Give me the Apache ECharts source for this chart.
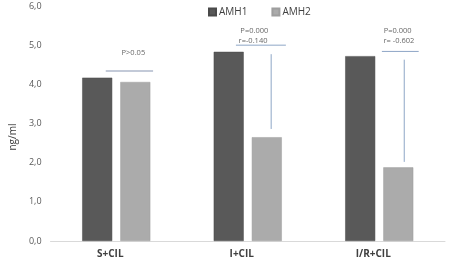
<!DOCTYPE html>
<html>
<head>
<meta charset="utf-8">
<script src="https://cdn.jsdelivr.net/npm/echarts@6/dist/echarts.min.js"></script>
<style>
html,body{margin:0;padding:0;background:#fff;}
#chart{width:450px;height:262px;}
</style>
</head>
<body>
<div id="chart"></div>
<script>
var categories = ['S+CIL', 'I+CIL', 'I/R+CIL'];
var amh1 = [4.17, 4.83, 4.72];
var amh2 = [4.06, 2.65, 1.88];
var yTicks = [0, 1, 2, 3, 4, 5, 6];

// significance brackets, in category units (x, 0 = first category) and ng/ml (y)
var bracketWide = [[-0.08, 4.34], [0.28, 4.34]];
var bracketH = [
    [[0.91, 5.0], [1.29, 5.0]],
    [[2.02, 4.84], [2.30, 4.84]]
];
var bracketV = [
    [[1.178, 4.77], [1.178, 2.86]],
    [[2.19, 4.63], [2.19, 2.02]]
];
var notes = [
    [0.13, 4.80, 'P>0.05'],
    [1.05, 5.37, 'P=0.000'],
    [1.04, 5.11, 'r=-0.140'],
    [2.14, 5.37, 'P=0.000'],
    [2.15, 5.11, 'r= -0.602']
];

var font = 'Open Sans';
var myChart = echarts.init(document.getElementById('chart'));

var series = [
    {
        name: 'AMH1',
        type: 'bar',
        barWidth: 30,
        barGap: '27%',
        itemStyle: {color: '#595959', borderColor: '#4a4a4a', borderWidth: 0.5},
        data: amh1
    },
    {
        name: 'AMH2',
        type: 'bar',
        barWidth: 30,
        itemStyle: {color: '#ababab', borderColor: '#9e9e9e', borderWidth: 0.5},
        data: amh2
    },
    {
        type: 'line', xAxisIndex: 1, data: bracketWide, symbol: 'none', silent: true,
        lineStyle: {color: '#c3cad8', width: 2}
    }
];
bracketH.forEach(function (d) {
    series.push({
        type: 'line', xAxisIndex: 1, data: d, symbol: 'none', silent: true,
        lineStyle: {color: '#8ea6c6', width: 1}
    });
});
bracketV.forEach(function (d) {
    series.push({
        type: 'line', xAxisIndex: 1, data: d, symbol: 'none', silent: true,
        lineStyle: {color: '#8ea6c6', width: 1}
    });
});
series.push({
    type: 'scatter', xAxisIndex: 1, symbolSize: 0, silent: true,
    data: notes,
    label: {
        show: true,
        position: 'inside',
        formatter: function (p) { return p.data[2]; },
        color: '#404040',
        fontSize: 7.5,
        fontFamily: font
    }
});

var option = {
    animation: false,
    legend: {
        data: ['AMH1', 'AMH2'],
        top: 2,
        left: 203,
        itemWidth: 7,
        itemHeight: 7,
        itemGap: 24,
        icon: 'rect',
        textStyle: {color: '#404040', fontSize: 10, fontFamily: font, padding: [0, 0, 0, -2]}
    },
    grid: {left: 44, right: 5, top: 6, bottom: 21, containLabel: false},
    xAxis: [
        {
            type: 'category',
            data: categories,
            axisLine: {lineStyle: {color: '#d9d9d9', width: 1}},
            axisTick: {show: false},
            axisLabel: {color: '#404040', fontSize: 10, fontFamily: font, fontWeight: 'bold', margin: 8, padding: [0, 12, 0, 0]}
        },
        {
            type: 'value',
            min: -0.5,
            max: 2.5,
            show: false
        }
    ],
    yAxis: {
        type: 'value',
        min: 0,
        max: 6,
        interval: 1,
        name: 'ng/ml',
        nameLocation: 'middle',
        nameGap: 30,
        nameTextStyle: {color: '#404040', fontSize: 10, fontFamily: font, align: 'right'},
        axisLine: {show: false},
        axisTick: {show: false},
        splitLine: {show: false},
        axisLabel: {
            color: '#595959', fontSize: 9, fontFamily: font, margin: 9,
            formatter: function (v) { return yTicks.indexOf(v) >= 0 ? v.toFixed(1).replace('.', ',') : ''; }
        }
    },
    series: series
};
myChart.setOption(option);
</script>
</body>
</html>
